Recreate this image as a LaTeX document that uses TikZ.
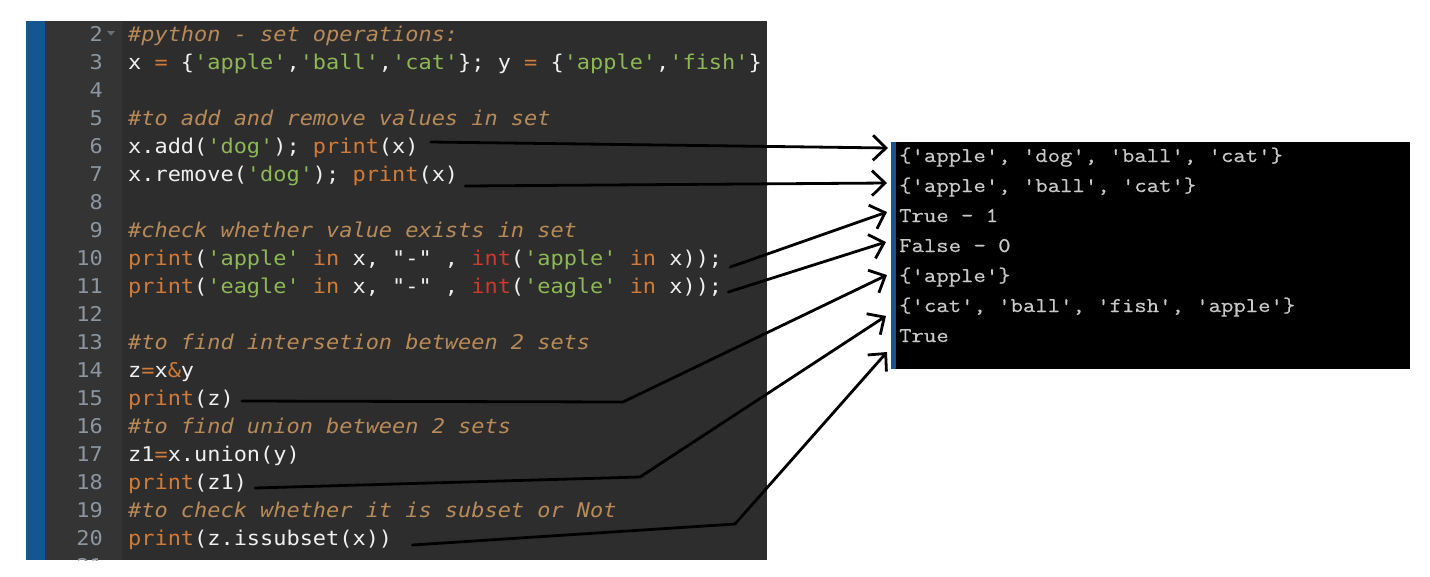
\documentclass[tikz,border=0pt]{standalone}
\usepackage{fontspec}
\usetikzlibrary{arrows.meta,calc}
\newfontfamily\codefont{DejaVu Sans Mono}[Ligatures=TeXOff,FakeStretch=1.08]
\newfontfamily\confont{Latin Modern Mono}[Ligatures=TeXOff,FakeStretch=1.15,FakeBold=0.6]
\definecolor{edbg}{HTML}{2D2D2D}
\definecolor{gutbg}{HTML}{343434}
\definecolor{edblue}{HTML}{135690}
\definecolor{lnum}{HTML}{8C96A0}
\definecolor{cmt}{HTML}{B88A58}
\definecolor{kw}{HTML}{D27A36}
\definecolor{strc}{HTML}{8DB855}
\definecolor{bic}{HTML}{CC3A2C}
\definecolor{txt}{HTML}{F0F0F0}
\definecolor{contxt}{HTML}{C8C8C8}
\newcommand\cCm[1]{{\color{cmt}\itshape #1}}
\newcommand\cKw[1]{{\color{kw}#1}}
\newcommand\cSt[1]{{\color{strc}#1}}
\newcommand\cBi[1]{{\color{bic}#1}}
\tikzset{
  code/.style={anchor=base west, inner sep=0pt, text=txt,
    font=\codefont\fontsize{20.3}{24}\selectfont},
  lnumber/.style={anchor=base east, inner sep=0pt, text=lnum,
    font=\codefont\fontsize{20.3}{24}\selectfont},
  con/.style={anchor=base west, inner sep=0pt, text=contxt,
    font=\confont\fontsize{20.9}{24}\selectfont},
  arr/.style={draw=black, line width=2.8pt, line join=round, line cap=round,
    -{Straight Barb[length=13pt,width=25pt]}}
}
\begin{document}
\begin{tikzpicture}[x=1pt,y=-1pt]
\useasboundingbox (0,0) rectangle (1430,576);
% editor panel
\fill[edbg] (26,21) rectangle (767,560);
\fill[gutbg] (45,21) rectangle (122,560);
\fill[edblue] (26,21) rectangle (45,560);
% line numbers
\foreach \n in {2,...,20}{
  \node[lnumber] (n\n) at (103,{41+(\n-2)*28}) {\n};
}
\begin{scope}
  \clip (45,21) rectangle (767,560);
  \node[lnumber] (n21) at (103,573) {21};
\end{scope}
\fill[lnum!75!black] (107,31) -- (115,31) -- (111,35.5) -- cycle;
% code lines
\node[code] (l2)  at (128,41)  {\cCm{\#python - set operations:}};
\node[code] (l3)  at (128,69)  {x \cKw{=} \{\cSt{'apple'},\cSt{'ball'},\cSt{'cat'}\}; y \cKw{=} \{\cSt{'apple'},\cSt{'fish'}\}};
\node[code] (l5)  at (128,125) {\cCm{\#to add and remove values in set}};
\node[code] (l6)  at (128,153) {x.add(\cSt{'dog'}); \cKw{print}(x)};
\node[code] (l7)  at (128,181) {x.remove(\cSt{'dog'}); \cKw{print}(x)};
\node[code] (l9)  at (128,237) {\cCm{\#check whether value exists in set}};
\node[code] (l10) at (128,265) {\cKw{print}(\cSt{'apple'} \cKw{in} x, "-" , \cBi{int}(\cSt{'apple'} \cKw{in} x));};
\node[code] (l11) at (128,293) {\cKw{print}(\cSt{'eagle'} \cKw{in} x, "-" , \cBi{int}(\cSt{'eagle'} \cKw{in} x));};
\node[code] (l13) at (128,349) {\cCm{\#to find intersetion between 2 sets}};
\node[code] (l14) at (128,377) {z\cKw{=}x\cKw{\&}y};
\node[code] (l15) at (128,405) {\cKw{print}(z)};
\node[code] (l16) at (128,433) {\cCm{\#to find union between 2 sets}};
\node[code] (l17) at (128,461) {z1\cKw{=}x.union(y)};
\node[code] (l18) at (128,489) {\cKw{print}(z1)};
\node[code] (l19) at (128,517) {\cCm{\#to check whether it is subset or Not}};
\node[code] (l20) at (128,545) {\cKw{print}(z.issubset(x))};
% console
\fill[black] (891,142) rectangle (1410,369);
\fill[edblue] (891,142) rectangle (896,369);
\node[con] (c1) at (899,162) {\{'apple', 'dog', 'ball', 'cat'\}};
\node[con] (c2) at (899,192) {\{'apple', 'ball', 'cat'\}};
\node[con] (c3) at (899,222) {True - 1};
\node[con] (c4) at (899,252) {False - 0};
\node[con] (c5) at (899,282) {\{'apple'\}};
\node[con] (c6) at (899,312) {\{'cat', 'ball', 'fish', 'apple'\}};
\node[con] (c7) at (899,342) {True};
% connector points
\coordinate (s1) at ($(l6.base east)+(12,-11)$);
\coordinate (e1) at ($(c1.base west)+(-11,-14)$);
\coordinate (s2) at ($(l7.base east)+(7,5)$);
\coordinate (e2) at ($(c2.base west)+(-12,-9)$);
\coordinate (s3) at ($(l10.base east)+(8,2)$);
\coordinate (e3) at ($(c3.base west)+(-12,-10)$);
\coordinate (s4) at ($(l11.base east)+(6,-1)$);
\coordinate (e4) at ($(c4.base west)+(-13,-10)$);
\coordinate (s5) at ($(l15.base east)+(8,-4)$);
\coordinate (b5) at (623,402);
\coordinate (e5) at ($(c5.base west)+(-12,-7)$);
\coordinate (s6) at ($(l18.base east)+(8,-1)$);
\coordinate (b6) at (640,477);
\coordinate (e6) at ($(c6.base west)+(-13,4)$);
\coordinate (s7) at ($(l20.base east)+(20,0)$);
\coordinate (b7) at (735,524);
\coordinate (e7) at ($(c7.base west)+(-12,10)$);
% arrows
\draw[arr] (s1) -- (e1);
\draw[arr] (s2) -- (e2);
\draw[arr] (s3) -- (e3);
\draw[arr] (s4) -- (e4);
\draw[arr] (s5) -- (b5) -- (e5);
\draw[arr] (s6) -- (b6) -- (e6);
\draw[arr] (s7) -- (b7) -- (e7);
\end{tikzpicture}
\end{document}
